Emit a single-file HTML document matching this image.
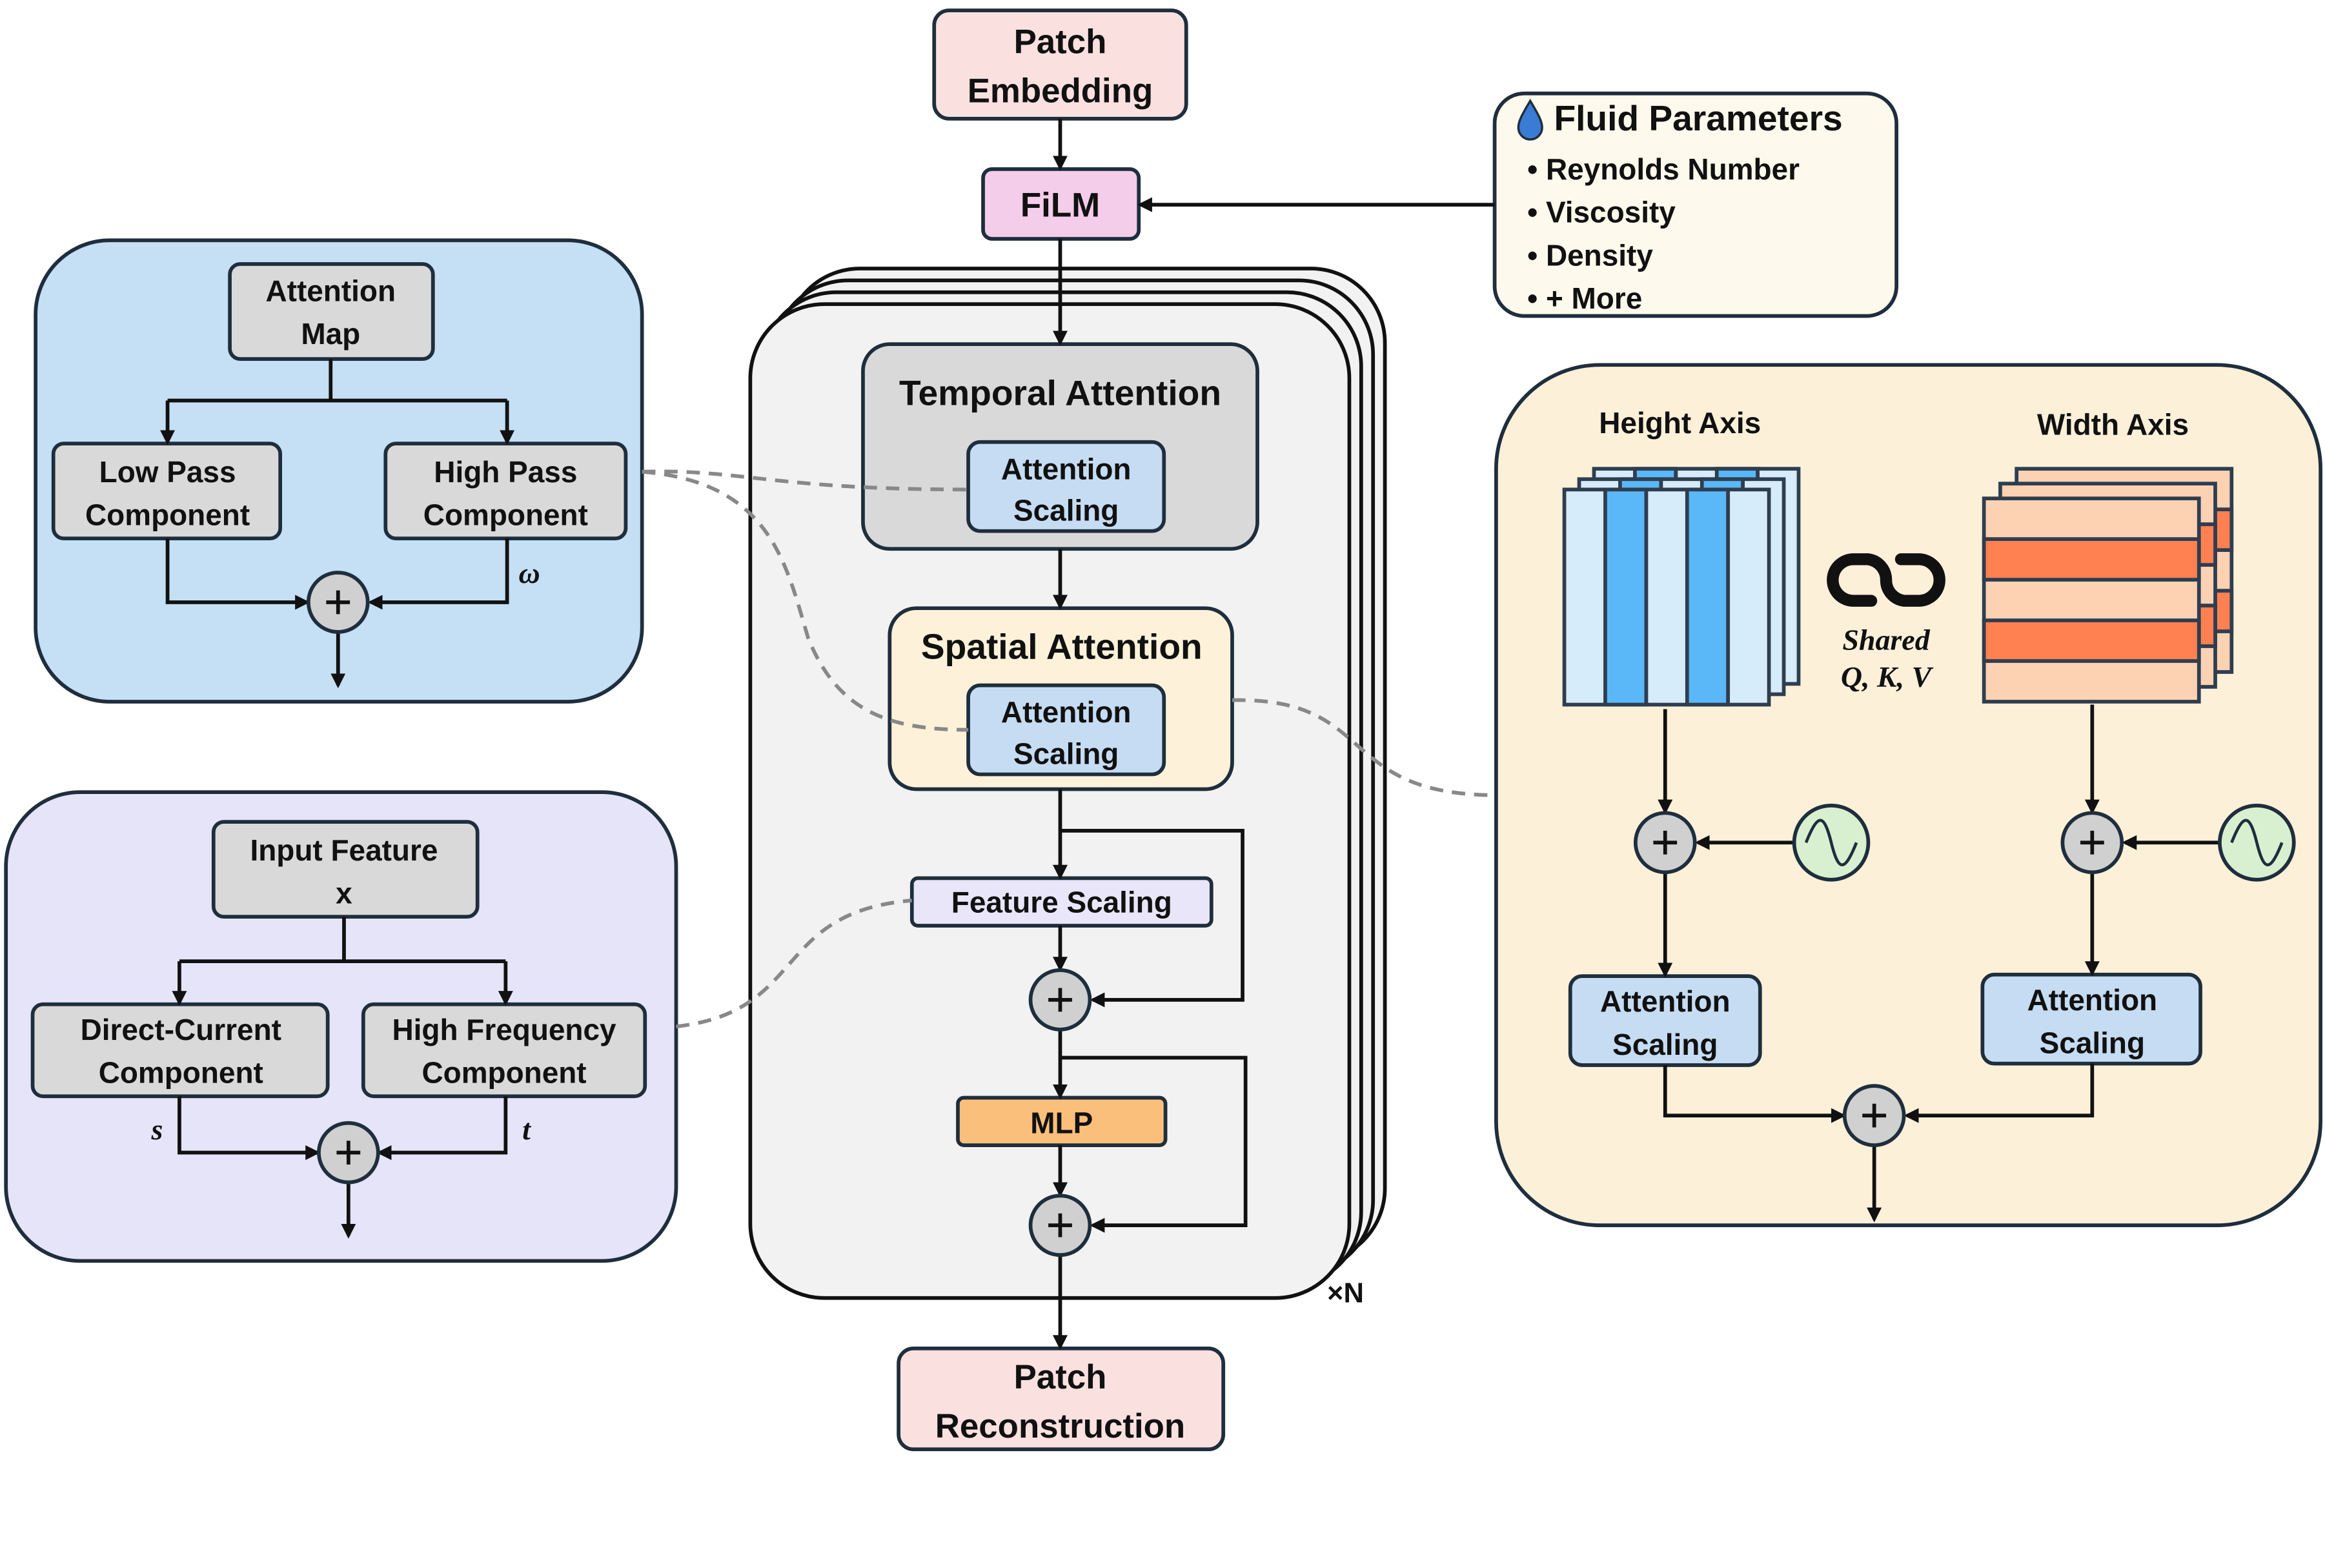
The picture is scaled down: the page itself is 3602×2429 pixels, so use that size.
<!DOCTYPE html>
<html><head><meta charset="utf-8"><style>html,body{margin:0;padding:0;background:#fff}svg{display:block}text{font-family:"Liberation Sans",sans-serif;font-weight:bold;fill:#111}</style></head><body>
<svg width="3602" height="2429" viewBox="0 0 1568 1057" preserveAspectRatio="none" xmlns="http://www.w3.org/2000/svg">
<defs><marker id="a" markerWidth="10" markerHeight="10" refX="8" refY="5" orient="auto" markerUnits="userSpaceOnUse"><path d="M0,0 L10,5 L0,10 z" fill="#111"/></marker></defs>
<g stroke="#1f2e3d" stroke-width="2.5">
<rect x="24" y="162" width="409" height="311" rx="50" fill="#c5dff5"/>
<rect x="4" y="534" width="452" height="316" rx="50" fill="#e6e4f8"/>
<rect x="1009" y="246" width="556" height="580" rx="70" fill="#fdf0d9"/>
<rect x="1008" y="63" width="271" height="150" rx="20" fill="#fdf9ec"/>
<rect x="530" y="181" width="404" height="670" rx="50" fill="#f2f2f2" stroke="#111"/>
<rect x="522" y="189" width="404" height="670" rx="50" fill="#f2f2f2" stroke="#111"/>
<rect x="514" y="197" width="404" height="670" rx="50" fill="#f2f2f2" stroke="#111"/>
<rect x="506" y="205" width="404" height="670" rx="50" fill="#f2f2f2" stroke="#111"/>
<rect x="630" y="7" width="170" height="73" rx="10" fill="#fbe0e0"/>
<rect x="663" y="114" width="105" height="47" rx="6" fill="#f3cdea"/>
<rect x="582" y="232" width="266" height="138" rx="18" fill="#d9d9d9"/>
<rect x="653" y="298" width="132" height="60" rx="8" fill="#c5dcf2"/>
<rect x="600" y="410" width="231" height="122" rx="18" fill="#fdf2d9"/>
<rect x="653" y="462" width="132" height="60" rx="8" fill="#c5dcf2"/>
<rect x="615" y="592" width="202" height="32" rx="4" fill="#e8e6f8"/>
<rect x="646" y="740" width="140" height="32" rx="4" fill="#fbbf7c"/>
<rect x="606" y="909" width="219" height="68" rx="10" fill="#fbe0e0"/>
<rect x="155" y="178" width="137" height="64" rx="7" fill="#d9d9d9"/>
<rect x="36" y="299" width="153" height="64" rx="7" fill="#d9d9d9"/>
<rect x="260" y="299" width="162" height="64" rx="7" fill="#d9d9d9"/>
<rect x="144" y="554" width="178" height="64" rx="7" fill="#d9d9d9"/>
<rect x="22" y="677" width="199" height="62" rx="7" fill="#d9d9d9"/>
<rect x="245" y="677" width="190" height="62" rx="7" fill="#d9d9d9"/>
<rect x="1059" y="658" width="128" height="60" rx="8" fill="#c5dcf2"/>
<rect x="1337" y="657" width="147" height="60" rx="8" fill="#c5dcf2"/>
</g>
<g stroke="#2e3e50" stroke-width="2.5">
<g transform="translate(20,-14)"><rect x="1055" y="330" width="138" height="145" fill="#d6ecfb"/><rect x="1082.6" y="330" width="27.6" height="145" fill="#5ab8f8"/><rect x="1137.8" y="330" width="27.6" height="145" fill="#5ab8f8"/><line x1="1110.2" y1="330" x2="1110.2" y2="475"/><line x1="1165.4" y1="330" x2="1165.4" y2="475"/></g>
<g transform="translate(10,-7)"><rect x="1055" y="330" width="138" height="145" fill="#d6ecfb"/><rect x="1082.6" y="330" width="27.6" height="145" fill="#5ab8f8"/><rect x="1137.8" y="330" width="27.6" height="145" fill="#5ab8f8"/><line x1="1110.2" y1="330" x2="1110.2" y2="475"/><line x1="1165.4" y1="330" x2="1165.4" y2="475"/></g>
<rect x="1055" y="330" width="138" height="145" fill="#d6ecfb"/><rect x="1082.6" y="330" width="27.6" height="145" fill="#5ab8f8"/><rect x="1137.8" y="330" width="27.6" height="145" fill="#5ab8f8"/><line x1="1110.2" y1="330" x2="1110.2" y2="475"/><line x1="1165.4" y1="330" x2="1165.4" y2="475"/>
<g transform="translate(22,-20)"><rect x="1338" y="336" width="145" height="137" fill="#fdd2b3"/><rect x="1338" y="363.4" width="145" height="27.4" fill="#ff8050"/><rect x="1338" y="418.2" width="145" height="27.4" fill="#ff8050"/></g>
<g transform="translate(11,-10)"><rect x="1338" y="336" width="145" height="137" fill="#fdd2b3"/><rect x="1338" y="363.4" width="145" height="27.4" fill="#ff8050"/><rect x="1338" y="418.2" width="145" height="27.4" fill="#ff8050"/></g>
<rect x="1338" y="336" width="145" height="137" fill="#fdd2b3"/><rect x="1338" y="363.4" width="145" height="27.4" fill="#ff8050"/><rect x="1338" y="418.2" width="145" height="27.4" fill="#ff8050"/>
</g>
<g fill="none" stroke="#111" stroke-width="8" stroke-linecap="round">
<path d="M1262,405 h-12 a14,14 0 0 1 0,-28 h10 a14,14 0 0 1 12,14"/>
<path d="M1282,377 h12 a14,14 0 0 1 0,28 h-10 a14,14 0 0 1 -12,-14"/>
</g>
<g fill="none" stroke="#888" stroke-width="2.5" stroke-dasharray="9,6">
<path d="M433,318 C500,316 520,330 653,330"/>
<path d="M433,318 C520,325 530,380 545,430 C565,480 600,492 653,492"/>
<path d="M456,692 C545,682 520,615 615,607"/>
<path d="M831,472 C930,470 900,536 1009,536"/>
</g>
<g stroke="#111" stroke-width="2.5" fill="none">
<line x1="715" y1="80" x2="715" y2="113" marker-end="url(#a)"/>
<line x1="1008" y1="138" x2="769" y2="138" marker-end="url(#a)"/>
<line x1="715" y1="161" x2="715" y2="231" marker-end="url(#a)"/>
<line x1="715" y1="370" x2="715" y2="409" marker-end="url(#a)"/>
<line x1="715" y1="532" x2="715" y2="591" marker-end="url(#a)"/>
<polyline points="715,560 838,560 838,674 737,674" marker-end="url(#a)"/>
<line x1="715" y1="624" x2="715" y2="653" marker-end="url(#a)"/>
<line x1="715" y1="694" x2="715" y2="739" marker-end="url(#a)"/>
<polyline points="715,713 840,713 840,826 737,826" marker-end="url(#a)"/>
<line x1="715" y1="772" x2="715" y2="805" marker-end="url(#a)"/>
<line x1="715" y1="846" x2="715" y2="908" marker-end="url(#a)"/>
<line x1="223" y1="242" x2="223" y2="270"/>
<line x1="113" y1="270" x2="342" y2="270"/>
<line x1="113" y1="270" x2="113" y2="298" marker-end="url(#a)"/>
<line x1="342" y1="270" x2="342" y2="298" marker-end="url(#a)"/>
<polyline points="113,363 113,406 207,406" marker-end="url(#a)"/>
<polyline points="342,363 342,406 250,406" marker-end="url(#a)"/>
<line x1="228" y1="426" x2="228" y2="462" marker-end="url(#a)"/>
<line x1="232" y1="618" x2="232" y2="648"/>
<line x1="121" y1="648" x2="341" y2="648"/>
<line x1="121" y1="648" x2="121" y2="676" marker-end="url(#a)"/>
<line x1="341" y1="648" x2="341" y2="676" marker-end="url(#a)"/>
<polyline points="121,739 121,777 214,777" marker-end="url(#a)"/>
<polyline points="341,739 341,777 256,777" marker-end="url(#a)"/>
<line x1="235" y1="797" x2="235" y2="833" marker-end="url(#a)"/>
<line x1="1123" y1="478" x2="1123" y2="547" marker-end="url(#a)"/>
<line x1="1210" y1="568" x2="1145" y2="568" marker-end="url(#a)"/>
<line x1="1123" y1="588" x2="1123" y2="657" marker-end="url(#a)"/>
<line x1="1411" y1="475" x2="1411" y2="547" marker-end="url(#a)"/>
<line x1="1497" y1="568" x2="1433" y2="568" marker-end="url(#a)"/>
<line x1="1411" y1="588" x2="1411" y2="656" marker-end="url(#a)"/>
<polyline points="1123,718 1123,752 1243,752" marker-end="url(#a)"/>
<polyline points="1411,717 1411,752 1286,752" marker-end="url(#a)"/>
<line x1="1264" y1="772" x2="1264" y2="822" marker-end="url(#a)"/>
</g>
<g stroke="#1f2e3d" stroke-width="2.5" fill="#d0d0d0">
<circle cx="715" cy="674" r="20"/><circle cx="715" cy="826" r="20"/>
<circle cx="228" cy="406" r="20"/><circle cx="235" cy="777" r="20"/>
<circle cx="1123" cy="568" r="20"/><circle cx="1411" cy="568" r="20"/><circle cx="1264" cy="752" r="20"/>
</g>
<g stroke="#111" stroke-width="2.5">
<path d="M715,666v16M707,674h16M715,818v16M707,826h16M228,398v16M220,406h16M235,769v16M227,777h16M1123,560v16M1115,568h16M1411,560v16M1403,568h16M1264,744v16M1256,752h16"/>
</g>
<g stroke="#1f2e3d" stroke-width="2.5"><circle cx="1235" cy="568" r="25" fill="#d8f0d0"/><circle cx="1522" cy="568" r="25" fill="#d8f0d0"/></g>
<g fill="none" stroke="#1f2e3d" stroke-width="2"><path d="M1218,568 C1226,548 1230,548 1235,568 C1240,588 1244,588 1252,568"/><path d="M1505,568 C1513,548 1517,548 1522,568 C1527,588 1531,588 1539,568"/></g>
<path d="M1032,68 C1026,78 1024,82 1024,86 a8,8 0 0 0 16,0 C1040,82 1038,78 1032,68 z" fill="#3a7bd5" stroke="#1f2e3d" stroke-width="1.5"/>
<g font-size="23" text-anchor="middle">
<text x="715" y="36">Patch</text><text x="715" y="69">Embedding</text>
<text x="715" y="146">FiLM</text>
<text x="715" y="273" font-size="24">Temporal Attention</text>
<text x="716" y="444" font-size="24">Spatial Attention</text>
<text x="715" y="936">Patch</text><text x="715" y="969">Reconstruction</text>
</g>
<g font-size="20" text-anchor="middle">
<text x="719" y="323">Attention</text><text x="719" y="351">Scaling</text>
<text x="719" y="487">Attention</text><text x="719" y="515">Scaling</text>
<text x="716" y="615">Feature Scaling</text>
<text x="716" y="764">MLP</text>
<text x="223" y="203">Attention</text><text x="223" y="232">Map</text>
<text x="113" y="325">Low Pass</text><text x="113" y="354">Component</text>
<text x="341" y="325">High Pass</text><text x="341" y="354">Component</text>
<text x="232" y="580">Input Feature</text><text x="232" y="609">x</text>
<text x="122" y="701">Direct-Current</text><text x="122" y="730">Component</text>
<text x="340" y="701">High Frequency</text><text x="340" y="730">Component</text>
<text x="1123" y="682">Attention</text><text x="1123" y="711">Scaling</text>
<text x="1411" y="681">Attention</text><text x="1411" y="710">Scaling</text>
<text x="1133" y="292">Height Axis</text><text x="1425" y="293">Width Axis</text>
</g>
<g font-style="italic" font-size="20" text-anchor="middle">
<text x="357" y="393" style="font-family:'Liberation Serif',serif">ω</text>
<text x="106" y="768" style="font-family:'Liberation Serif',serif">s</text>
<text x="355" y="768" style="font-family:'Liberation Serif',serif">t</text>
<text x="1272" y="438" style="font-family:'Liberation Serif',serif">Shared</text>
<text x="1272" y="463" style="font-family:'Liberation Serif',serif">Q, K, V</text>
</g>
<text x="1048" y="88" font-size="24">Fluid Parameters</text>
<g font-size="20">
<text x="1030" y="121">• Reynolds Number</text>
<text x="1030" y="150">• Viscosity</text>
<text x="1030" y="179">• Density</text>
<text x="1030" y="208">• + More</text>
</g>
<text x="895" y="878" font-size="19" font-weight="normal">×N</text>
</svg>
</body></html>
